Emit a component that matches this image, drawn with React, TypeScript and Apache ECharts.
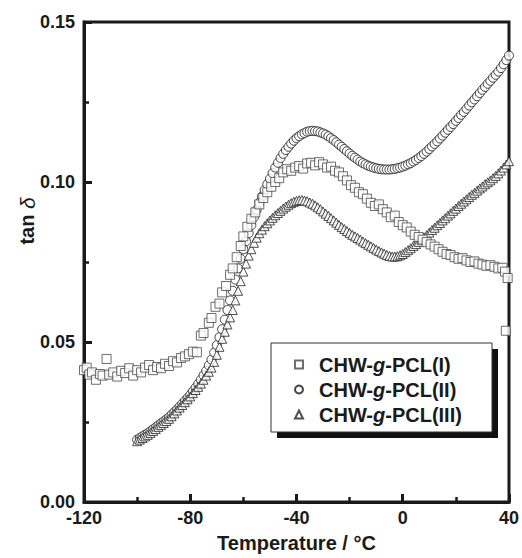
import React, { useEffect, useRef } from "react";
import * as echarts from "echarts";

const FONT = "'Liberation Sans', Arial, Helvetica, sans-serif";
const INK = "#1a1a1a";

const xMin = -120;
const xMax = 40;
const xStep = 40;
const yMin = 0;
const yMax = 0.15;
const yStep = 0.05;

const seriesNames = ["CHW-g-PCL(I)", "CHW-g-PCL(II)", "CHW-g-PCL(III)"];
const xTitle = "Temperature / °C";

// CHW-g-PCL(I) — squares
const pcl1: [number, number][] = [
  [-120, 0.0412], [-119, 0.042], [-118, 0.0398], [-117, 0.0405], [-115.5, 0.0382],
  [-114, 0.04], [-113, 0.0395], [-111.5, 0.0447], [-110.5, 0.0398], [-109, 0.0405],
  [-107.5, 0.0392], [-106, 0.041], [-104.5, 0.0403], [-103, 0.0418], [-101.5, 0.0395],
  [-100, 0.0412], [-98.5, 0.0405], [-97, 0.042], [-95.5, 0.0428], [-94, 0.0412],
  [-92.5, 0.0422], [-91, 0.0418], [-89.5, 0.0432], [-88, 0.0425], [-86.5, 0.044],
  [-85, 0.0436], [-83.5, 0.045], [-82, 0.0455], [-80.5, 0.0462], [-79, 0.047],
  [-77.5, 0.0468], [-76, 0.052], [-75, 0.0528], [-73, 0.056], [-72, 0.0575],
  [-70.5, 0.061], [-69, 0.062], [-68, 0.0655], [-66.5, 0.0675], [-65, 0.071],
  [-64, 0.073], [-62.5, 0.0765], [-61, 0.08], [-60, 0.083], [-58.5, 0.086],
  [-57, 0.0885], [-55.5, 0.0905], [-54, 0.093], [-52.5, 0.095], [-51, 0.0968],
  [-49.5, 0.0985], [-48, 0.1], [-46.5, 0.1012], [-45, 0.103], [-43.5, 0.104],
  [-42, 0.1035], [-40.5, 0.1045], [-39, 0.105], [-37.5, 0.1042], [-36, 0.1058],
  [-34.5, 0.106], [-33, 0.1052], [-31.5, 0.1062], [-30, 0.1055], [-28.5, 0.1045],
  [-27, 0.1048], [-25.5, 0.1035], [-24, 0.103], [-22.5, 0.1018], [-21, 0.1005],
  [-19.5, 0.099], [-18, 0.0982], [-16.5, 0.0968], [-15, 0.0962], [-13.5, 0.0948],
  [-12, 0.0935], [-10.5, 0.0925], [-9, 0.093], [-7.5, 0.0915], [-6, 0.0905],
  [-4.5, 0.089], [-3, 0.0895], [-1.5, 0.0875], [0, 0.0865], [1.5, 0.0858],
  [3, 0.0845], [4.5, 0.0835], [6, 0.0828], [7.5, 0.082], [9, 0.0812],
  [10.5, 0.0805], [12, 0.0798], [13.5, 0.079], [15, 0.0782], [16.5, 0.0775],
  [18, 0.0772], [19.5, 0.0765], [21, 0.076], [22.5, 0.0762], [24, 0.0755],
  [25.5, 0.075], [27, 0.0752], [28.5, 0.0745], [30, 0.0742], [31.5, 0.0738],
  [33, 0.074], [34.5, 0.0735], [36, 0.073], [37.5, 0.0732], [38.5, 0.072],
  [39.5, 0.07], [38.8, 0.0535],
];

// CHW-g-PCL(II) — circles
const pcl2: [number, number][] = [
  [-100, 0.0195], [-99, 0.02], [-98, 0.0205], [-97, 0.021], [-96, 0.0215],
  [-95, 0.0221], [-94, 0.0227], [-93, 0.0233], [-92, 0.024], [-91, 0.0246],
  [-90, 0.0252], [-89, 0.0258], [-88, 0.0265], [-87, 0.0273], [-86, 0.0281],
  [-85, 0.0289], [-84, 0.0298], [-83, 0.0307], [-82, 0.0316], [-81, 0.0325],
  [-80, 0.0335], [-79, 0.0346], [-78, 0.0357], [-77, 0.0369], [-76, 0.0382],
  [-75, 0.0396], [-74, 0.041], [-73, 0.0427], [-72, 0.0445], [-71, 0.0467],
  [-70, 0.049], [-69, 0.0515], [-68, 0.054], [-67, 0.057], [-66, 0.06],
  [-65, 0.063], [-64, 0.066], [-63, 0.0695], [-62, 0.073], [-61, 0.076],
  [-60, 0.079], [-59, 0.0815], [-58, 0.084], [-57, 0.0865], [-56, 0.089],
  [-55, 0.0913], [-54, 0.0935], [-53, 0.0955], [-52, 0.0975], [-51, 0.0993],
  [-50, 0.101], [-49, 0.1028], [-48, 0.1045], [-47, 0.106], [-46, 0.1075],
  [-45, 0.1088], [-44, 0.11], [-43, 0.111], [-42, 0.112], [-41, 0.1129],
  [-40, 0.1137], [-39, 0.1143], [-38, 0.1149], [-37, 0.1153], [-36, 0.1157],
  [-35, 0.1159], [-34, 0.116], [-33, 0.1159], [-32, 0.1158], [-31, 0.1155],
  [-30, 0.1152], [-29, 0.1148], [-28, 0.1143], [-27, 0.1137], [-26, 0.1131],
  [-25, 0.1124], [-24, 0.1117], [-23, 0.111], [-22, 0.1103], [-21, 0.1096],
  [-20, 0.1089], [-19, 0.1082], [-18, 0.1076], [-17, 0.107], [-16, 0.1064],
  [-15, 0.1059], [-14, 0.1055], [-13, 0.1051], [-12, 0.1048], [-11, 0.1045],
  [-10, 0.1043], [-9, 0.1041], [-8, 0.104], [-7, 0.1039], [-6, 0.1039],
  [-5, 0.1039], [-4, 0.104], [-3, 0.1041], [-2, 0.1043], [-1, 0.1045],
  [0, 0.1048], [1, 0.1051], [2, 0.1055], [3, 0.1059], [4, 0.1064],
  [5, 0.1069], [6, 0.1075], [7, 0.1081], [8, 0.1088], [9, 0.1095],
  [10, 0.1103], [11, 0.1111], [12, 0.1119], [13, 0.1127], [14, 0.1136],
  [15, 0.1145], [16, 0.1154], [17, 0.1163], [18, 0.1172], [19, 0.1181],
  [20, 0.1191], [21, 0.12], [22, 0.121], [23, 0.1219], [24, 0.1229],
  [25, 0.1239], [26, 0.1249], [27, 0.1258], [28, 0.1268], [29, 0.1278],
  [30, 0.1288], [31, 0.1297], [32, 0.1307], [33, 0.1316], [34, 0.1326],
  [35, 0.1335], [36, 0.1345], [37, 0.1356], [38, 0.1368], [39, 0.1381],
  [40, 0.1395],
];

// CHW-g-PCL(III) — triangles
const pcl3: [number, number][] = [
  [-100, 0.019], [-99, 0.0195], [-98, 0.02], [-97, 0.0205], [-96, 0.021],
  [-95, 0.0216], [-94, 0.0222], [-93, 0.0228], [-92, 0.0235], [-91, 0.0241],
  [-90, 0.0247], [-89, 0.0253], [-88, 0.026], [-87, 0.0268], [-86, 0.0277],
  [-85, 0.0286], [-84, 0.0295], [-83, 0.0303], [-82, 0.0312], [-81, 0.0321],
  [-80, 0.033], [-79, 0.034], [-78, 0.035], [-77, 0.036], [-76, 0.037],
  [-75, 0.0382], [-74, 0.0395], [-73, 0.0407], [-72, 0.042], [-71, 0.0438],
  [-70, 0.046], [-69, 0.0485], [-68, 0.051], [-67, 0.0532], [-66, 0.0555],
  [-65, 0.0577], [-64, 0.06], [-63, 0.063], [-62, 0.066], [-61, 0.069],
  [-60, 0.072], [-59, 0.0745], [-58, 0.077], [-57, 0.079], [-56, 0.081],
  [-55, 0.0826], [-54, 0.084], [-53, 0.0851], [-52, 0.0862], [-51, 0.0871],
  [-50, 0.088], [-49, 0.0888], [-48, 0.0896], [-47, 0.0903], [-46, 0.091],
  [-45, 0.0917], [-44, 0.0923], [-43, 0.0929], [-42, 0.0934], [-41, 0.0938],
  [-40, 0.0941], [-39, 0.0943], [-38, 0.0944], [-37, 0.0942], [-36, 0.094],
  [-35, 0.0936], [-34, 0.0932], [-33, 0.0927], [-32, 0.0921], [-31, 0.0915],
  [-30, 0.0908], [-29, 0.0901], [-28, 0.0894], [-27, 0.0887], [-26, 0.088],
  [-25, 0.0873], [-24, 0.0866], [-23, 0.0859], [-22, 0.0853], [-21, 0.0847],
  [-20, 0.0841], [-19, 0.0835], [-18, 0.083], [-17, 0.0825], [-16, 0.082],
  [-15, 0.0814], [-14, 0.0809], [-13, 0.0804], [-12, 0.0799], [-11, 0.0794],
  [-10, 0.0789], [-9, 0.0784], [-8, 0.078], [-7, 0.0776], [-6, 0.0772],
  [-5, 0.0769], [-4, 0.0767], [-3, 0.0767], [-2, 0.0768], [-1, 0.0771],
  [0, 0.0775], [1, 0.0781], [2, 0.0787], [3, 0.0793], [4, 0.08],
  [5, 0.0806], [6, 0.0813], [7, 0.082], [8, 0.0827], [9, 0.0834],
  [10, 0.0842], [11, 0.085], [12, 0.0857], [13, 0.0865], [14, 0.0872],
  [15, 0.088], [16, 0.0887], [17, 0.0895], [18, 0.0902], [19, 0.091],
  [20, 0.0917], [21, 0.0925], [22, 0.0932], [23, 0.0939], [24, 0.0946],
  [25, 0.0953], [26, 0.096], [27, 0.0966], [28, 0.0973], [29, 0.098],
  [30, 0.0986], [31, 0.0993], [32, 0.0999], [33, 0.1005], [34, 0.1012],
  [35, 0.1019], [36, 0.1027], [37, 0.1036], [38, 0.1045], [39, 0.1055],
  [40, 0.1065],
];

const seriesData = [pcl1, pcl2, pcl3];
const symbols = ["rect", "circle", "triangle"];
const strokeColors = ["#4a4a4a", "#151515", "#222222"];

export default function App() {
  const ref = useRef<HTMLDivElement>(null);

  useEffect(() => {
    if (!ref.current) return;
    const chart = echarts.init(ref.current, null, { renderer: "svg" });

    const labelStyle = {
      fontFamily: FONT,
      fontWeight: "bold" as const,
      fontSize: 18,
      color: INK,
    };

    const option: any = {
      animation: false,
      backgroundColor: "#ffffff",
      grid: {
        left: 84,
        right: 11,
        top: 22,
        bottom: 50,
        show: true,
        borderColor: INK,
        borderWidth: 3,
        backgroundColor: "transparent",
      },
      xAxis: {
        type: "value",
        min: xMin,
        max: xMax,
        interval: xStep,
        axisLine: { show: true, onZero: false, lineStyle: { color: INK, width: 3 } },
        axisTick: { show: true, inside: true, length: 8, lineStyle: { color: INK, width: 3 } },
        minorTick: { show: true, splitNumber: 2, length: 5, lineStyle: { color: INK, width: 2.5 } },
        splitLine: { show: false },
        axisLabel: { ...labelStyle, margin: 7 },
        name: xTitle,
        nameLocation: "middle",
        nameGap: 31,
        nameTextStyle: { fontFamily: FONT, fontWeight: "bold", fontSize: 20, color: INK },
      },
      yAxis: {
        type: "value",
        min: yMin,
        max: yMax,
        interval: yStep,
        axisLine: { show: true, onZero: false, lineStyle: { color: INK, width: 3 } },
        axisTick: { show: true, inside: true, length: 8, lineStyle: { color: INK, width: 3 } },
        minorTick: { show: true, splitNumber: 2, length: 5, lineStyle: { color: INK, width: 2.5 } },
        splitLine: { show: false },
        axisLabel: { ...labelStyle, margin: 9, formatter: (v: number) => v.toFixed(2) },
      },
      legend: {
        data: seriesNames,
        orient: "vertical",
        left: 294,
        top: 352,
        padding: 0,
        itemGap: 0,
        itemWidth: 8,
        itemHeight: 8,
        selectedMode: false,
        formatter: (name: string) => {
          const parts = name.split("-g-");
          return `{sp| }{n|${parts[0]}-}{i|g}{n|-${parts[1]}}`;
        },
        textStyle: {
          lineHeight: 25,
          rich: {
            sp: { width: 11, fontSize: 20, lineHeight: 25 },
            n: { fontFamily: FONT, fontWeight: "bold", fontSize: 20, color: INK, lineHeight: 25 },
            i: { fontFamily: FONT, fontWeight: "bold", fontStyle: "italic", fontSize: 20, color: INK, lineHeight: 25 },
          },
        },
        z: 10,
      },
      graphic: [
        {
          type: "group",
          z: 8,
          children: [
            { type: "rect", shape: { x: 277, y: 349, width: 221, height: 89 }, style: { fill: "#111" }, z: 8 },
            { type: "rect", shape: { x: 271, y: 343, width: 221, height: 89 }, style: { fill: "#fff", stroke: "#333", lineWidth: 1 }, z: 9 },
          ],
        },
        {
          type: "text",
          x: 27,
          y: 221,
          rotation: Math.PI / 2,
          style: {
            text: "{a|tan }{d|δ}",
            align: "center",
            verticalAlign: "middle",
            rich: {
              a: { fontFamily: FONT, fontWeight: "bold", fontSize: 20, fill: INK },
              d: { fontFamily: FONT, fontStyle: "italic", fontSize: 21, fill: INK },
            },
          },
        },
      ],
      series: seriesData.map((d, i) => ({
        type: "scatter",
        name: seriesNames[i],
        data: d,
        symbol: symbols[i],
        symbolSize: 9,
        itemStyle: {
          color: "#ffffff",
          borderColor: strokeColors[i],
          borderWidth: 1,
        },
        z: i === 0 ? 4 : i === 1 ? 2 : 3,
        emphasis: { disabled: true },
      })),
    };

    chart.setOption(option);
    return () => chart.dispose();
  }, []);

  return (
    <div
      ref={ref}
      style={{ position: "fixed", left: 0, top: 0, width: 522, height: 558, background: "#fff" }}
    />
  );
}
